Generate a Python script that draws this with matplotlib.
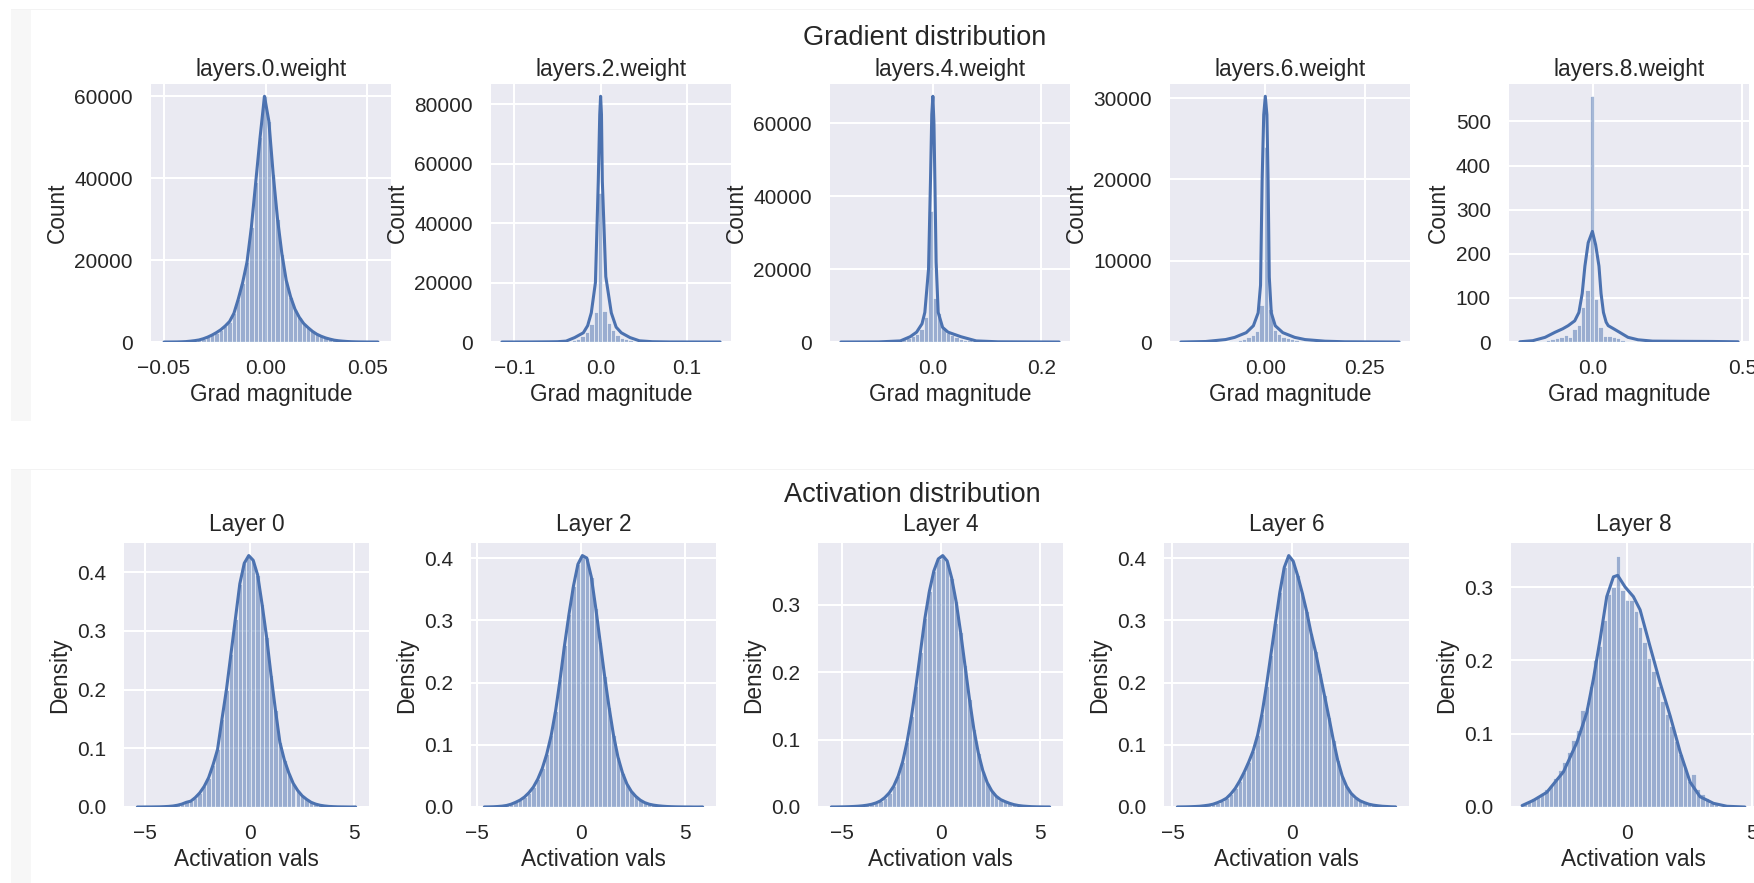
import numpy as np
import matplotlib
matplotlib.use("Agg")
import matplotlib.pyplot as plt
from matplotlib.patches import Rectangle

# ---------------- data ----------------
grad_titles = ["layers.0.weight", "layers.2.weight", "layers.4.weight",
               "layers.6.weight", "layers.8.weight"]
act_titles = ["Layer 0", "Layer 2", "Layer 4", "Layer 6", "Layer 8"]

# gradient histograms (50 bins between data min and max), counts
grad0_range = (-0.0510, 0.0564)
grad0_counts = [0, 0, 10, 20, 50, 100, 200, 330, 500, 800,
                1200, 1700, 2300, 3000, 3900, 5000, 7000, 10500, 14500, 19500,
                28000, 39000, 50000, 60000, 54000, 41000, 30000, 21500, 15000, 11000,
                8000, 6000, 4500, 3500, 2600, 1900, 1400, 1000, 700, 450,
                300, 200, 120, 70, 40, 20, 10, 5, 2, 1]

grad1_range = (-0.1144, 0.1385)
grad1_counts = [0, 0, 0, 0, 1, 1, 2, 3, 5, 8,
                14, 25, 45, 80, 150, 300, 550, 1000, 1900, 3500,
                6000, 10000, 50000, 10500, 6500, 4000, 2300, 1400, 850, 520,
                330, 200, 120, 75, 45, 28, 18, 11, 7, 5,
                3, 2, 1, 1, 1, 0, 0, 0, 0, 1]
grad1_kde_x = [-0.1144, -0.08, -0.06, -0.05, -0.04, -0.03, -0.02, -0.015, -0.0108, -0.006,
               -0.0027, -0.001, 0.0, 0.001, 0.002, 0.006, 0.0124, 0.018, 0.024, 0.034,
               0.045, 0.06, 0.08, 0.1385]
grad1_kde_y = [0, 20, 60, 100, 300, 1500, 3100, 5500, 9800, 20000,
               54000, 76500, 82600, 76500, 54000, 22000, 9800, 5000, 3100, 1500,
               400, 100, 20, 0]

grad2_range = (-0.1696, 0.2328)
grad2_counts = [1, 0, 1, 2, 3, 5, 8, 14, 25, 45,
                80, 140, 250, 420, 700, 1100, 1600, 2300, 3500, 7000,
                36000, 12000, 8000, 3800, 2600, 1800, 1300, 900, 600, 420,
                300, 210, 150, 100, 70, 50, 35, 25, 17, 12,
                8, 6, 4, 3, 2, 1, 1, 1, 0, 1]
grad2_kde_x = [-0.1696, -0.1, -0.06, -0.042, -0.030, -0.020, -0.0148, -0.008, -0.0044, -0.002,
               0.0, 0.002, 0.0037, 0.006, 0.0098, 0.018, 0.028, 0.052, 0.08, 0.12, 0.2328]
grad2_kde_y = [0, 30, 300, 1440, 2700, 5000, 8140, 20000, 44300, 62500,
               67460, 60000, 44300, 22000, 8140, 4000, 2700, 1440, 300, 60, 0]

grad3_range = (-0.2123, 0.3365)
grad3_counts = [0, 0, 1, 1, 2, 3, 5, 8, 14, 25,
                45, 80, 140, 230, 370, 560, 850, 1400, 4500, 24000,
                4000, 1500, 950, 650, 450, 320, 230, 160, 110, 80,
                55, 40, 28, 20, 14, 10, 7, 5, 4, 3,
                2, 2, 1, 1, 1, 0, 1, 0, 0, 1]
grad3_kde_x = [-0.2123, -0.15, -0.1, -0.077, -0.048, -0.03, -0.018, -0.012, -0.008, -0.004,
               0.0, 0.004, 0.007, 0.010, 0.015, 0.025, 0.044, 0.074, 0.1, 0.15, 0.2, 0.3365]
grad3_kde_y = [0, 60, 300, 570, 1150, 2000, 3590, 7000, 19850, 27970,
               30240, 27970, 19850, 8000, 3590, 2000, 1150, 570, 300, 100, 30, 0]

grad4_range = (-0.2432, 0.486)
grad4_counts = [1, 0, 1, 1, 2, 3, 4, 7, 10, 12,
                15, 12, 30, 39, 80, 118, 557, 98, 35, 14,
                13, 12, 8, 4, 3, 2, 2, 1, 1, 1,
                1, 1, 0, 1, 1, 1, 0, 1, 0, 1,
                1, 0, 0, 1, 0, 0, 0, 0, 0, 1]
grad4_kde_x = [-0.2432, -0.2, -0.159, -0.126, -0.1, -0.082, -0.06, -0.046, -0.035, -0.026,
               -0.015, -0.001, 0.01, 0.021, 0.028, 0.036, 0.045, 0.052, 0.07, 0.09,
               0.118, 0.152, 0.2, 0.3, 0.4, 0.486]
grad4_kde_y = [0.5, 3, 10.6, 22, 30, 37, 48, 67, 110, 172,
               225, 250.7, 220, 172, 110, 67, 45, 37, 30, 22,
               10.6, 5, 2, 1.5, 1.2, 0.5]

# activation histograms (50 bins), density
act0_range = (-5.49, 5.19)
act0_density = [0.0, 0.0, 0.0001, 0.0001, 0.0002, 0.0003, 0.0006, 0.0010, 0.0017, 0.0030,
                0.005, 0.008, 0.010, 0.016, 0.024, 0.035, 0.050, 0.072, 0.098, 0.150,
                0.200, 0.260, 0.320, 0.380, 0.415, 0.428, 0.420, 0.395, 0.345, 0.290,
                0.225, 0.165, 0.110, 0.080, 0.058, 0.040, 0.028, 0.019, 0.013, 0.008,
                0.005, 0.003, 0.0018, 0.001, 0.0006, 0.0003, 0.0002, 0.0001, 0.0, 0.0001]

act2_range = (-4.75, 5.96)
act2_density = [0.0001, 0.0002, 0.0004, 0.0008, 0.0014, 0.0025, 0.0045, 0.0075, 0.011, 0.016,
                0.023, 0.032, 0.045, 0.062, 0.085, 0.115, 0.155, 0.205, 0.260, 0.310,
                0.355, 0.390, 0.404, 0.400, 0.370, 0.320, 0.265, 0.210, 0.160, 0.115,
                0.080, 0.055, 0.037, 0.025, 0.017, 0.011, 0.007, 0.0045, 0.003, 0.002,
                0.0013, 0.0008, 0.0005, 0.0003, 0.0002, 0.0001, 0.0001, 0.0, 0.0, 0.0001]

act4_range = (-5.65, 5.60)
act4_density = [0.0001, 0.0001, 0.0002, 0.0003, 0.0005, 0.0008, 0.0012, 0.0018, 0.0027, 0.004,
                0.006, 0.009, 0.014, 0.021, 0.031, 0.046, 0.067, 0.097, 0.135, 0.180,
                0.230, 0.280, 0.320, 0.350, 0.368, 0.373, 0.365, 0.340, 0.305, 0.260,
                0.210, 0.160, 0.115, 0.080, 0.054, 0.036, 0.024, 0.016, 0.011, 0.008,
                0.0055, 0.0035, 0.0022, 0.0014, 0.0009, 0.0005, 0.0003, 0.0002, 0.0001, 0.0001]

act6_range = (-4.89, 4.40)
act6_density = [0.0001, 0.0002, 0.0003, 0.0005, 0.0008, 0.0012, 0.002, 0.003, 0.0045, 0.007,
                0.010, 0.014, 0.021, 0.030, 0.042, 0.056, 0.072, 0.090, 0.115, 0.150,
                0.195, 0.245, 0.295, 0.345, 0.385, 0.404, 0.395, 0.372, 0.345, 0.315,
                0.280, 0.250, 0.215, 0.180, 0.145, 0.108, 0.075, 0.050, 0.033, 0.022,
                0.015, 0.010, 0.007, 0.0045, 0.003, 0.002, 0.0012, 0.0008, 0.0004, 0.0002]

act8_range = (-4.23, 4.72)
act8_density = [0.004, 0.008, 0.012, 0.015, 0.019, 0.024, 0.030, 0.040, 0.050, 0.062,
                0.075, 0.092, 0.105, 0.133, 0.137, 0.165, 0.200, 0.220, 0.255, 0.290,
                0.300, 0.343, 0.296, 0.283, 0.283, 0.268, 0.245, 0.225, 0.203, 0.185,
                0.165, 0.145, 0.127, 0.110, 0.090, 0.072, 0.055, 0.036, 0.045, 0.025,
                0.018, 0.012, 0.006, 0.004, 0.002, 0.001, 0.001, 0.0, 0.0, 0.001]
act8_kde_x = [-4.23, -3.78, -3.24, -2.57, -2.03, -1.63, -1.37, -1.10, -0.83, -0.56,
              -0.39, -0.09, 0.24, 0.51, 0.91, 1.31, 1.72, 2.12, 2.52, 2.92,
              3.46, 4.0, 4.72]
act8_kde_y = [0.002, 0.009, 0.02, 0.048, 0.088, 0.129, 0.174, 0.228, 0.287, 0.314,
              0.316, 0.300, 0.287, 0.269, 0.219, 0.170, 0.124, 0.075, 0.034, 0.014,
              0.005, 0.001, 0.0]

# ---------------- style ----------------
W, H, DPI = 1754, 883, 100
BLUE = "#4C72B0"
FACE = "#EAEAF2"
TXT = "#262626"
plt.rcParams["font.family"] = ["Liberation Sans", "DejaVu Sans"]
plt.rcParams["text.color"] = TXT
plt.rcParams["axes.labelcolor"] = TXT
plt.rcParams["xtick.color"] = TXT
plt.rcParams["ytick.color"] = TXT

fig = plt.figure(figsize=(W / DPI, H / DPI), dpi=DPI, facecolor="white")

# faint panel backgrounds (as in the source screenshot)
for (y0, y1) in [(9, 421), (469, 883)]:
    fig.patches.append(Rectangle((11 / W, 1 - y1 / H), 20 / W, (y1 - y0) / H,
                                 transform=fig.transFigure, facecolor="#f7f7f7",
                                 edgecolor="none", zorder=-5))
    fig.patches.append(Rectangle((11 / W, 1 - y0 / H - 1.5 / H), (W - 11) / W, 1.5 / H,
                                 transform=fig.transFigure, facecolor="#f3f3f3",
                                 edgecolor="none", zorder=-5))


def add_ax(left, top, width, height):
    return fig.add_axes([left / W, 1 - (top + height) / H, width / W, height / H])


def style(ax, title, xlabel, ylabel, title_pad):
    ax.set_facecolor(FACE)
    for s in ax.spines.values():
        s.set_visible(False)
    ax.grid(True, color="white", linewidth=1.5)
    ax.set_axisbelow(True)
    ax.tick_params(axis="both", length=0, labelsize=15)
    ax.tick_params(axis="x", pad=12)
    ax.tick_params(axis="y", pad=13)
    ax.set_title(title, fontsize=16.3, pad=title_pad)
    ax.set_xlabel(xlabel, fontsize=16.3)
    ax.set_ylabel(ylabel, fontsize=16.3)


def draw(ax, rng, heights, kde_x=None, kde_y=None):
    n = len(heights)
    edges = np.linspace(rng[0], rng[1], n + 1)
    centers = 0.5 * (edges[:-1] + edges[1:])
    ax.bar(centers, heights, width=edges[1] - edges[0], align="center",
           facecolor=(0.298, 0.447, 0.690, 0.5), edgecolor=(1, 1, 1, 0.55),
           linewidth=0.7)
    if kde_x is None:
        ax.plot(centers, heights, color=BLUE, linewidth=2.2, solid_capstyle="round")
    else:
        ax.plot(kde_x, kde_y, color=BLUE, linewidth=2.2, solid_capstyle="round")


grad_data = [
    (grad0_range, grad0_counts, None, None),
    (grad1_range, grad1_counts, grad1_kde_x, grad1_kde_y),
    (grad2_range, grad2_counts, grad2_kde_x, grad2_kde_y),
    (grad3_range, grad3_counts, grad3_kde_x, grad3_kde_y),
    (grad4_range, grad4_counts, grad4_kde_x, grad4_kde_y),
]
act_data = [
    (act0_range, act0_density, None, None),
    (act2_range, act2_density, None, None),
    (act4_range, act4_density, None, None),
    (act6_range, act6_density, None, None),
    (act8_range, act8_density, act8_kde_x, act8_kde_y),
]

top_lefts = [151, 491, 830, 1170, 1509]
bot_lefts = [124, 471, 818, 1164, 1511]

for i in range(5):
    ax = add_ax(top_lefts[i], 84, 240, 258)
    draw(ax, *grad_data[i])
    style(ax, grad_titles[i], "Grad magnitude", "Count", 5.5)

for i in range(5):
    ax = add_ax(bot_lefts[i], 543, 245, 264)
    draw(ax, *act_data[i])
    style(ax, act_titles[i], "Activation vals", "Density", 8.5)

fig.text(925 / W, 1 - 38 / H, "Gradient distribution", fontsize=19.5,
         ha="center", va="center")
fig.text(912 / W, 1 - 495 / H, "Activation distribution", fontsize=19.5,
         ha="center", va="center")

fig.savefig("out.png", dpi=DPI, facecolor="white")
